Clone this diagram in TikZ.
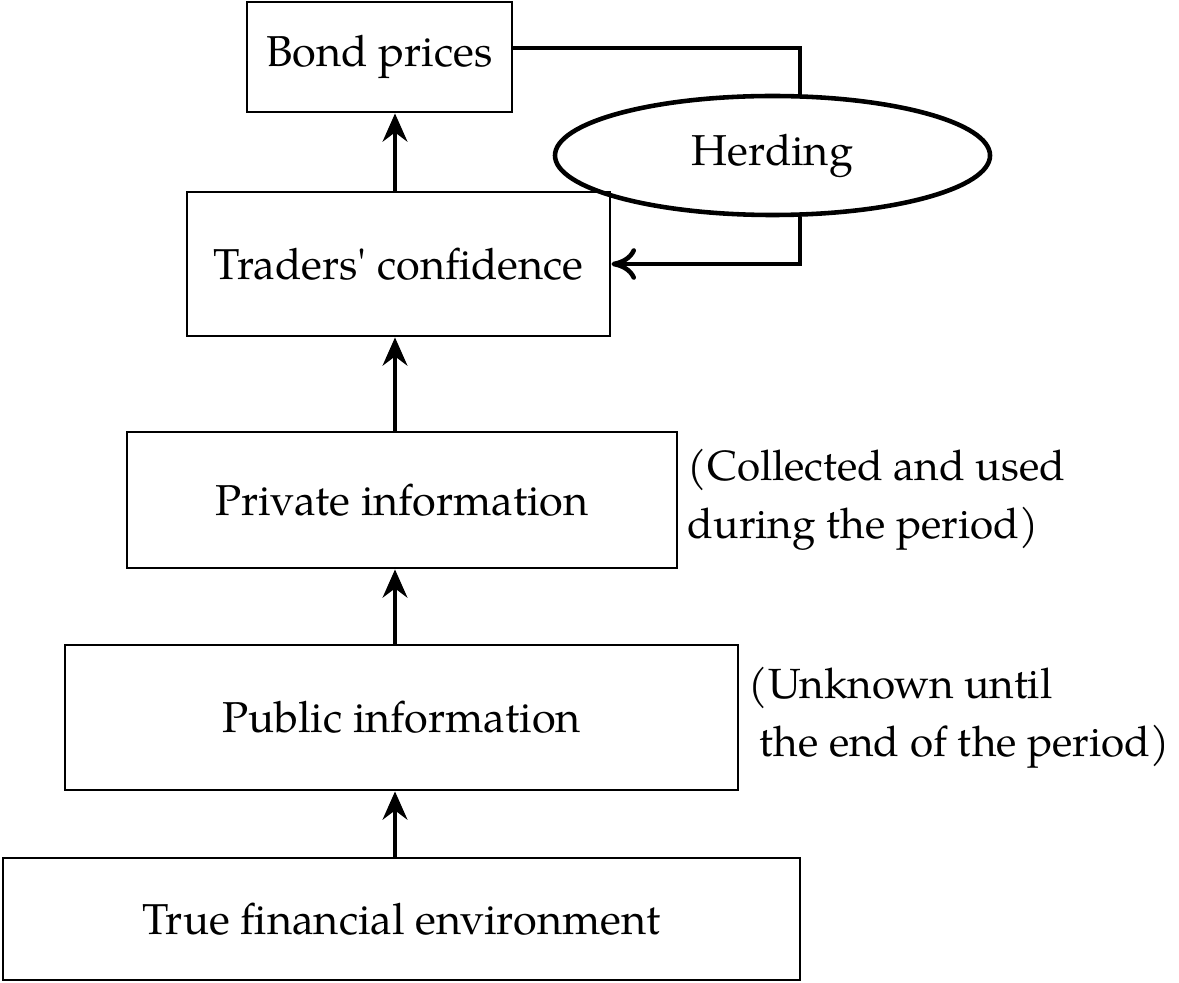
\documentclass[tikz,border=0pt]{standalone}
\usepackage{fontspec}
\setmainfont{TeX Gyre Pagella}
\usetikzlibrary{arrows.meta, shapes.geometric, positioning}

\begin{document}
\begin{tikzpicture}[
    font=\fontsize{12.3}{17}\selectfont,
    box/.style={draw, line width=0.8pt, inner sep=0pt},
    note/.style={anchor=west, align=left, inner sep=2.5pt, font=\fontsize{12}{16.5}\selectfont},
    up/.style={line width=1.3pt, -{Stealth[length=8pt, width=7pt]}},
    link/.style={line width=1.3pt}
  ]
  \useasboundingbox (0,0) rectangle (11.79,-9.82);

  \node[box, minimum width=2.65cm, minimum height=1.1cm] (bond) at (3.795,-0.57) {Bond prices};
  \node[box, minimum width=4.23cm, minimum height=1.44cm] (traders) at (3.985,-2.64) {Traders\textquotesingle{} confidence};
  \node[box, minimum width=5.5cm, minimum height=1.36cm] (private) at (4.02,-5.0) {Private information};
  \node[box, minimum width=6.73cm, minimum height=1.45cm] (public) at (4.015,-7.175) {Public information};
  \node[box, minimum width=7.97cm, minimum height=1.22cm] (true) at (4.015,-9.19) {True financial environment};
  \node[draw, ellipse, line width=1.3pt, minimum width=4.35cm, minimum height=1.19cm, inner sep=0pt] (herding) at (7.725,-1.555) {Herding};

  \node[note] (collected) at (private.east) {(Collected and used\\ during the period)};
  \node[note] (unknown) at (public.east) {(Unknown until\\ \ the end of the period)};

  % upward chain
  \coordinate (spine) at (3.95,0);
  \foreach \a/\b in {true/public, public/private, private/traders, traders/bond}
    \draw[up] (\a.north -| spine) -- (\b.south -| spine);

  % herding loop
  \coordinate (turn) at (8.0,-0.48);
  \draw[link] (bond.east |- turn) -- (turn) -- (herding.north -| turn);
  \draw[link, -{To[length=7pt, width=9pt]}] (herding.south -| turn) |- (traders.east);
\end{tikzpicture}
\end{document}
